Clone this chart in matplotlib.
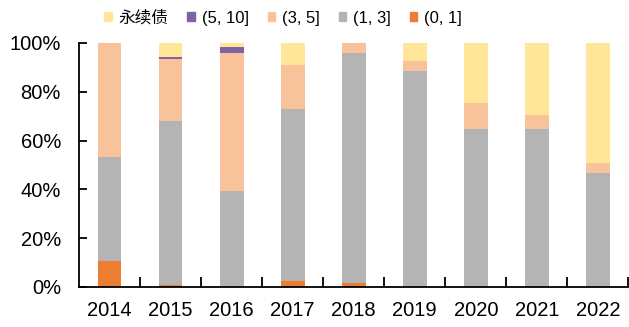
import numpy as np
import matplotlib
matplotlib.use('Agg')
import matplotlib.pyplot as plt
from matplotlib.patches import Patch

plt.rcParams['font.family'] = ['Liberation Sans', 'Noto Sans CJK SC']

years = ['2014', '2015', '2016', '2017', '2018', '2019', '2020', '2021', '2022']

# share of each maturity bucket, in percent
s_0_1 = [10.8, 1.0, 0.0, 2.6, 1.8, 0.0, 0.0, 0.0, 0.0]
s_1_3 = [42.6, 67.2, 39.5, 70.5, 94.2, 88.7, 64.9, 64.9, 46.9]
s_3_5 = [46.6, 25.2, 56.5, 18.0, 4.0, 4.1, 10.6, 5.7, 4.1]
s_5_10 = [0.0, 1.0, 2.5, 0.0, 0.0, 0.0, 0.0, 0.0, 0.0]
s_perp = [0.0, 5.6, 1.5, 8.9, 0.0, 7.2, 24.5, 29.4, 49.0]

series = [
    ('(0, 1]', s_0_1, '#ED7D31'),
    ('(1, 3]', s_1_3, '#B4B4B4'),
    ('(3, 5]', s_3_5, '#F8C29A'),
    ('(5, 10]', s_5_10, '#8064A2'),
    ('永续债', s_perp, '#FFE699'),
]

fig = plt.figure(figsize=(6.29, 3.27), dpi=100)
ax = fig.add_axes([79 / 629, 40 / 327, 549.5 / 629, 244 / 327])

x = np.arange(len(years))
bottom = np.zeros(len(years))
for name, vals, col in series:
    vals = np.array(vals)
    ax.bar(x, vals, width=0.39, bottom=bottom, color=col, label=name)
    bottom += vals

ax.set_xlim(-0.5, len(years) - 0.5)
ax.set_ylim(0, 100)
ax.set_yticks(np.arange(0, 101, 20))
ax.set_yticklabels([f'{v}%' for v in range(0, 101, 20)])
ax.set_xticks(x)
ax.set_xticklabels(years)
ax.set_xticks(x + 0.5, minor=True)

for side in ['top', 'right']:
    ax.spines[side].set_visible(False)
for side in ['left', 'bottom']:
    ax.spines[side].set_linewidth(1.3)
    ax.spines[side].set_color('black')

ax.tick_params(axis='y', direction='in', length=6, width=1.3, pad=13, labelsize=14.5)
ax.tick_params(axis='x', which='major', length=0, pad=10, labelsize=14.5)
ax.tick_params(axis='x', which='minor', direction='in', length=7, width=1.3)

handles = [Patch(color=col, label=name) for name, _, col in series[::-1]]
fig.legend(handles=handles, loc='center', bbox_to_anchor=(0.45, 0.945),
           ncol=5, frameon=False, fontsize=12, handlelength=0.45, handleheight=0.45,
           handletextpad=0.4, columnspacing=1.15, borderaxespad=0)

fig.savefig('out.png', dpi=100)
